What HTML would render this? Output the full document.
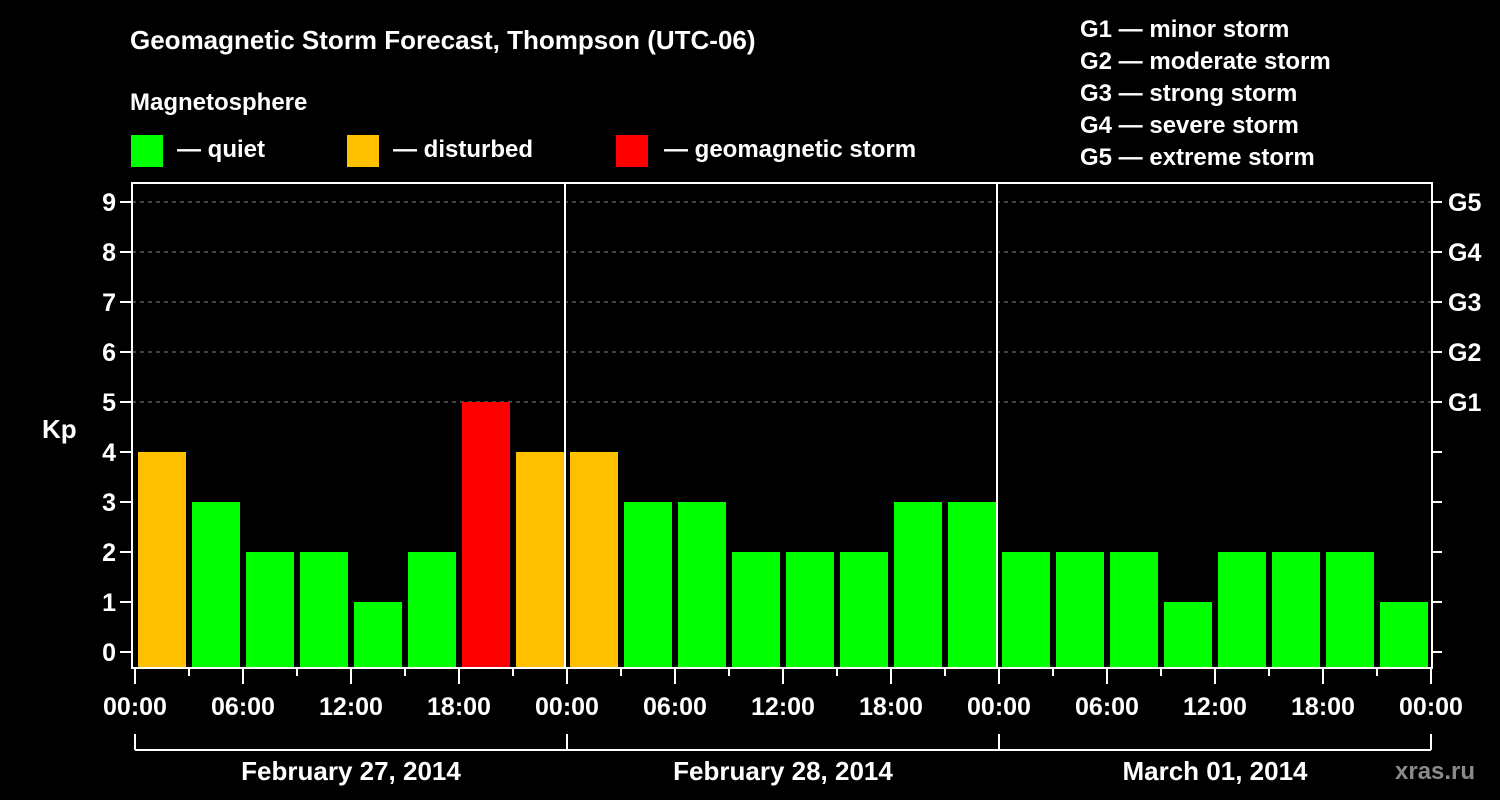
<!DOCTYPE html>
<html><head><meta charset="utf-8"><style>
body{margin:0;background:#000;width:1500px;height:800px;overflow:hidden}
svg{display:block}
text{font-family:"Liberation Sans",Arial,sans-serif;font-weight:bold;fill:#fff}
</style></head><body>
<svg id="c" width="1500" height="800">
<rect width="1500" height="800" fill="#000"/>
<text x="130" y="49" font-size="26">Geomagnetic Storm Forecast, Thompson (UTC-06)</text>
<text x="130" y="110" font-size="24">Magnetosphere</text>
<g><rect x="131" y="135" width="32" height="32" fill="#00ff00"/><text x="177" y="157" font-size="24">— quiet</text></g>
<g><rect x="347" y="135" width="32" height="32" fill="#ffc000"/><text x="393" y="157" font-size="24">— disturbed</text></g>
<g><rect x="616" y="135" width="32" height="32" fill="#ff0000"/><text x="664" y="157" font-size="24">— geomagnetic storm</text></g>
<g font-size="24">
<text x="1080" y="37">G1 — minor storm</text>
<text x="1080" y="69">G2 — moderate storm</text>
<text x="1080" y="101">G3 — strong storm</text>
<text x="1080" y="133">G4 — severe storm</text>
<text x="1080" y="165">G5 — extreme storm</text>
</g>
<text x="42" y="438" font-size="26">Kp</text>
<text x="1395" y="779" font-size="24" fill="#888" style="fill:#8a8a8a">xras.ru</text>
<g id="plot"></g>
</svg>
<script>
const kpValues=[4,3,2,2,1,2,5,4, 4,3,3,2,2,2,3,3, 2,2,2,1,2,2,2,1];
const yTicks=[0,1,2,3,4,5,6,7,8,9];
const gLabels=["G1","G2","G3","G4","G5"];
const hourLabels=["00:00","06:00","12:00","18:00","00:00","06:00","12:00","18:00","00:00","06:00","12:00","18:00","00:00"];
const dayLabels=["February 27, 2014","February 28, 2014","March 01, 2014"];

const NS="http://www.w3.org/2000/svg";
const g=document.getElementById('plot');
const X0=135,SLOT=54,Y0=652,UNIT=50,TOP=183,BOTTOM=668,LEFT=132,RIGHT=1432;
const xs=i=>X0+i*SLOT;
const ys=v=>Y0-v*UNIT;
function mk(t,a){const e=document.createElementNS(NS,t);for(const k in a)e.setAttribute(k,a[k]);g.appendChild(e);return e;}
// grid
yTicks.forEach(v=>{
  if(v>=5){const l=mk('line',{x1:LEFT,x2:RIGHT,y1:ys(v),y2:ys(v),stroke:'#888','stroke-dasharray':'4 4','stroke-width':1});
  
  }
  const t=mk('line',{x1:LEFT-12,x2:LEFT,y1:ys(v),y2:ys(v),stroke:'#fff','stroke-width':2});
  
  
  const r=mk('line',{x1:RIGHT,x2:RIGHT+10,y1:ys(v),y2:ys(v),stroke:'#fff','stroke-width':2});
  
  
  const tx=mk('text',{x:LEFT-16,y:ys(v)+9,'text-anchor':'end','font-size':'25'});
  tx.textContent=v;
  
  
});
gLabels.forEach((s,i)=>{
  const tx=mk('text',{x:1448,y:ys(5+i)+9,'font-size':'25'});
  tx.textContent=s;
  
  
});
// bars
kpValues.forEach((v,i)=>{
  const col=v>=5?'#ff0000':(v>=4?'#ffc000':'#00ff00');
  const b=mk('rect',{x:xs(i)+3,y:ys(v),width:48,height:BOTTOM-ys(v),fill:col});
  
  
});
// frame
const f=mk('rect',{x:LEFT,y:TOP,width:RIGHT-LEFT,height:BOTTOM-TOP,fill:'none',stroke:'#fff','stroke-width':2});


for(let d=1;d<dayLabels.length;d++){
  const l=mk('line',{x1:xs(d*8)-2,x2:xs(d*8)-2,y1:TOP,y2:BOTTOM,stroke:'#fff','stroke-width':2});
  
  
}
// x ticks
for(let i=0;i<=kpValues.length;i++){
  const big=i%2===0;
  const t=mk('line',{x1:xs(i),x2:xs(i),y1:BOTTOM,y2:BOTTOM+(big?16:8),stroke:'#fff','stroke-width':2});
  
  
}
hourLabels.forEach((s,i)=>{
  const tx=mk('text',{x:xs(i*2),y:715,'text-anchor':'middle','font-size':'25'});
  tx.textContent=s;
  
  
});
// day brackets
const hl=mk('line',{x1:xs(0),x2:xs(kpValues.length),y1:750,y2:750,stroke:'#fff','stroke-width':2});


for(let d=0;d<=dayLabels.length;d++){
  const l=mk('line',{x1:xs(d*8),x2:xs(d*8),y1:734,y2:750,stroke:'#fff','stroke-width':2});
  
  
}
dayLabels.forEach((s,d)=>{
  const tx=mk('text',{x:xs(d*8+4),y:780,'text-anchor':'middle','font-size':'26'});
  tx.textContent=s;
  
  
});
</script>
</body></html>
